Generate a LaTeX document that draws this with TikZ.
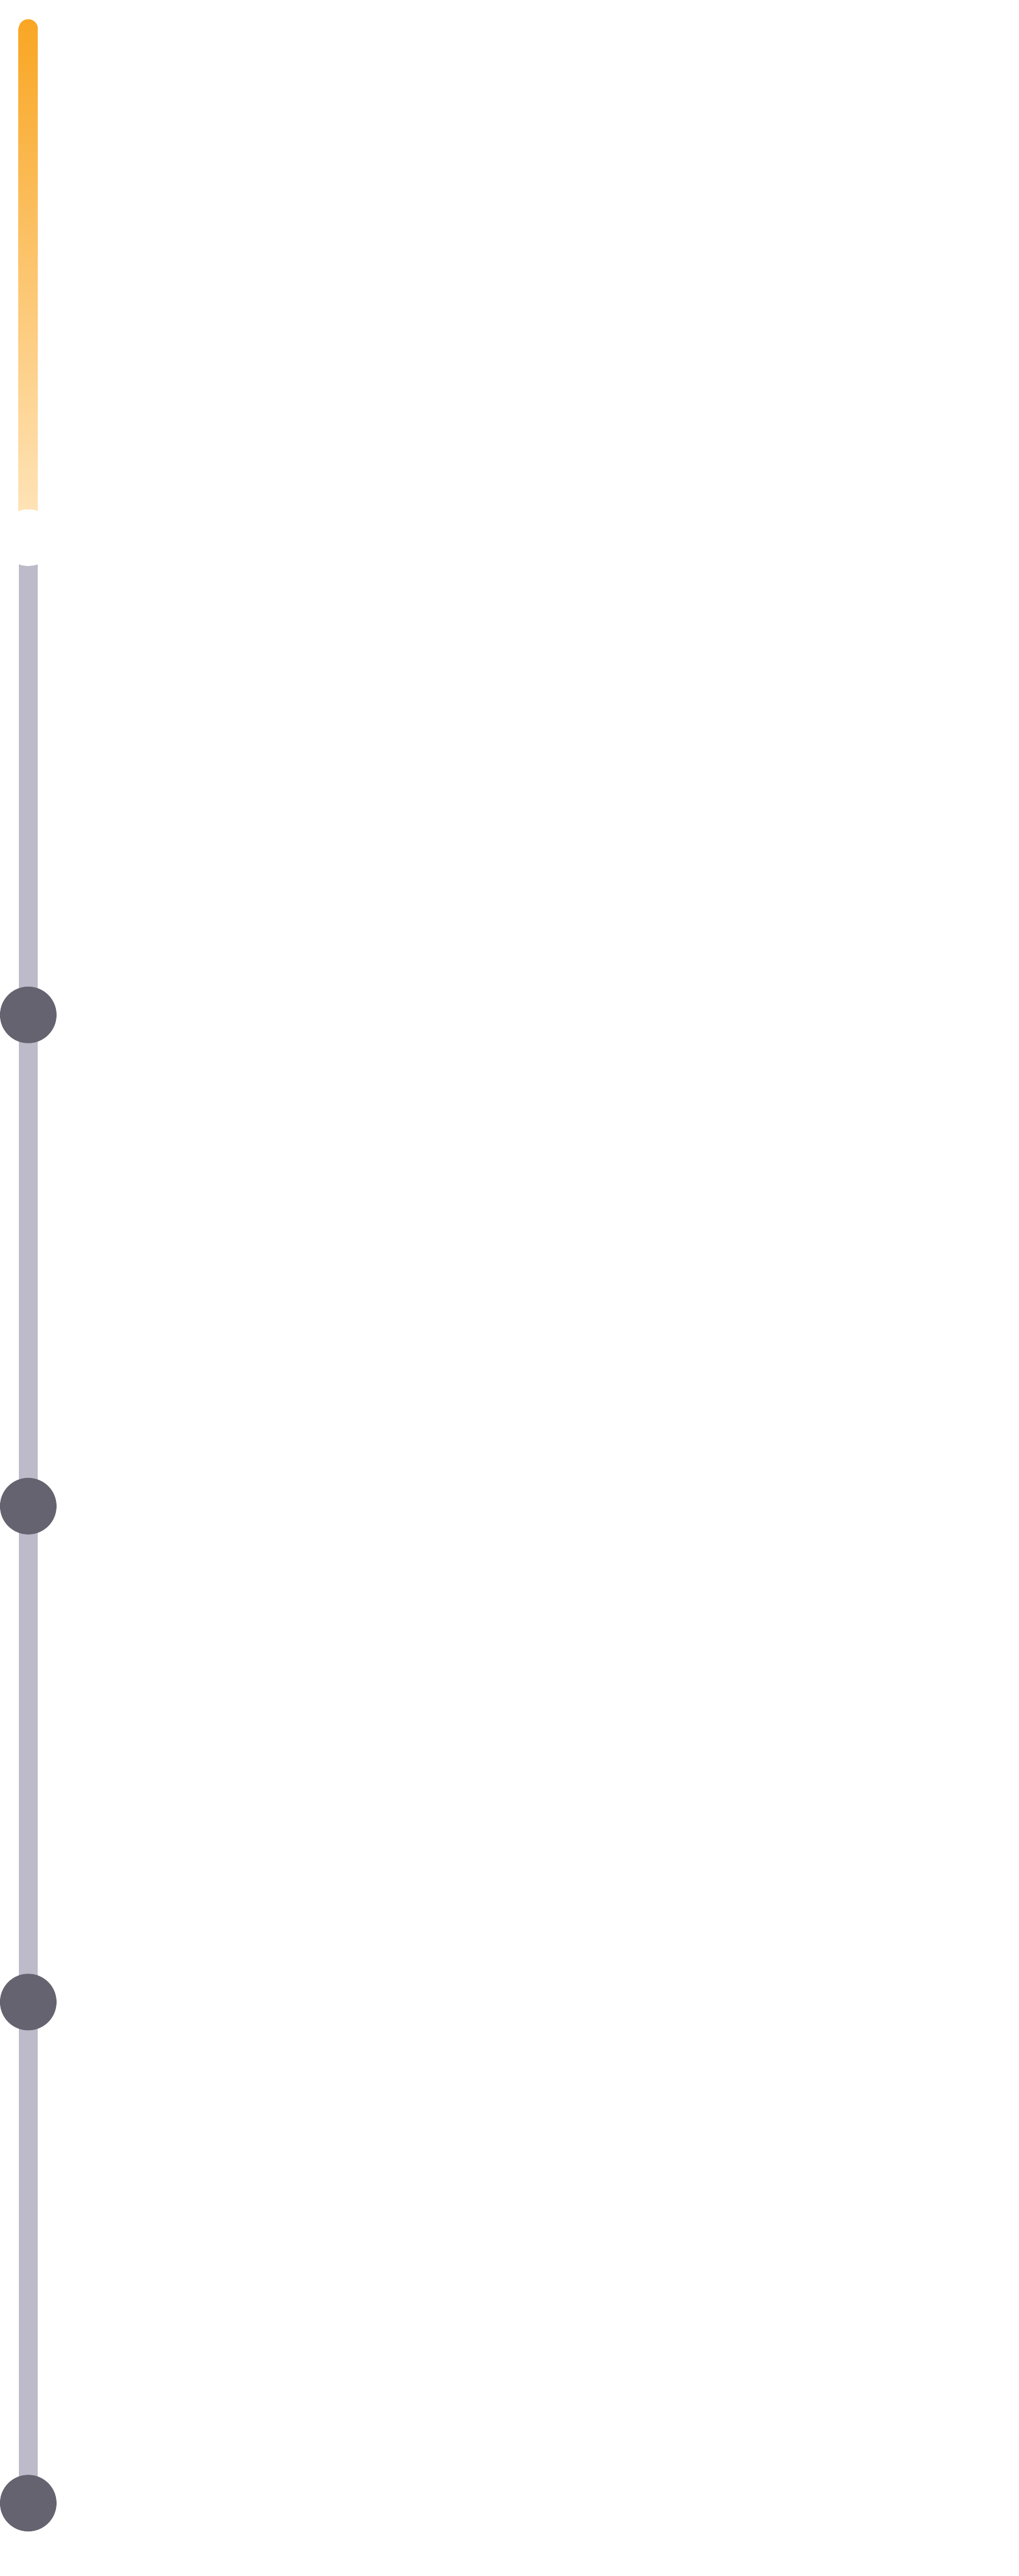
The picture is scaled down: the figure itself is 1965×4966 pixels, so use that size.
\documentclass[tikz,border=0pt]{standalone}
\definecolor{orangeTop}{HTML}{F9A623}
\definecolor{orangeBot}{HTML}{FFE6BE}
\definecolor{railgray}{HTML}{BDBAC9}
\definecolor{dotgray}{HTML}{65636F}
\begin{document}
\begin{tikzpicture}[x=0.01cm,y=-0.01cm,
  dotnode/.style={circle,inner sep=0pt,minimum size=1.09cm,fill=dotgray,draw=none},
  gapnode/.style={circle,inner sep=0pt,minimum size=1.09cm,fill=white,draw=none},
  rail/.style={draw=railgray,line width=0.37cm}]
\fill[white] (0,0) rectangle (1965,4966);
\useasboundingbox (0,0) rectangle (1965,4966);
\coordinate (top) at (54.5,37);
\coordinate (gapc) at (54.5,1036.5);
\coordinate (p1) at (54.5,1956.5);
\coordinate (p2) at (54.5,2903.5);
\coordinate (p3) at (54.5,3859.5);
\coordinate (p4) at (54.5,4825.5);
% progress bar (gradient, rounded top)
\shade[top color=orangeTop,bottom color=orangeBot]
  (36,1036.5) [rounded corners=0.185cm] -- (36,37) -- (73,37) [sharp corners] -- (73,1036.5) -- cycle;
% remaining rail
\path[rail] (gapc) -- (p4);
% markers
\node[gapnode] (gap) at (gapc) {};
\node[dotnode] (d1) at (p1) {};
\node[dotnode] (d2) at (p2) {};
\node[dotnode] (d3) at (p3) {};
\node[dotnode] (d4) at (p4) {};
\end{tikzpicture}
\end{document}
